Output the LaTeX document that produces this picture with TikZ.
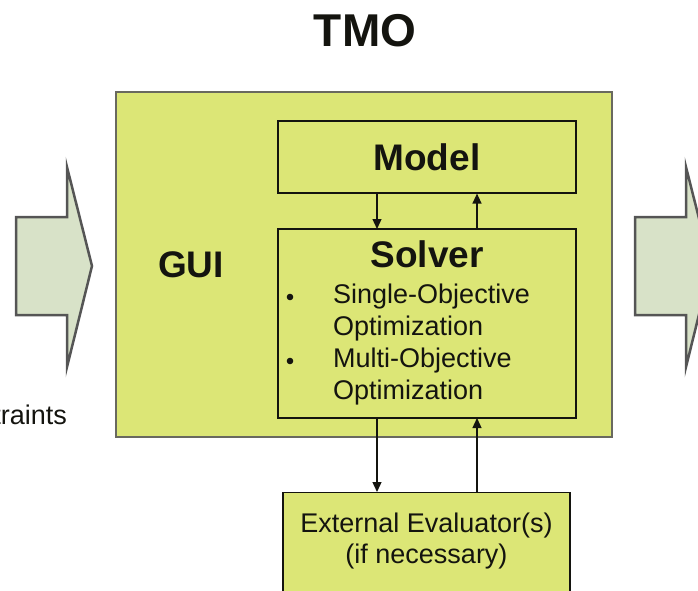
\documentclass[tikz,border=0pt]{standalone}
\usepackage{fontspec}
\setmainfont{Liberation Sans}
\usetikzlibrary{arrows.meta}
\definecolor{boxfill}{RGB}{220,230,118}
\definecolor{boxline}{RGB}{105,105,95}
\definecolor{arrowfill}{RGB}{216,226,200}
\definecolor{arrowline}{RGB}{85,85,85}
\definecolor{ink}{RGB}{20,20,15}
\tikzset{
  panel/.style={draw=boxline, line width=2pt, fill=boxfill},
  inner/.style={draw=ink, line width=1.2pt, fill=boxfill},
  flow/.style={draw=arrowline, line width=2.5pt, fill=arrowfill, line join=miter},
  link/.style={draw=ink, line width=1.3pt, -{Triangle[length=10pt,width=9pt]}},
  body/.style={font=\fontsize{27}{30}\selectfont, text=ink},
  heading/.style={font=\fontsize{37}{40}\selectfont\bfseries, text=ink},
}
\begin{document}
\begin{tikzpicture}[x=1pt,y=-1pt]
\useasboundingbox (0,0) rectangle (698,591);
\clip (0,0) rectangle (698,591);

% title
\node[font=\fontsize{46}{48}\selectfont\bfseries, text=ink] (title) at (365,31) {TMO};

% input arrow
\draw[flow] (16,217) -- (67,217) -- (67,167) -- (92,266) -- (67,367) -- (67,315) -- (16,315) -- cycle;
\node[body, anchor=east, inner sep=0] (inlabel) at (67,415) {Constraints};

% output arrow
\draw[flow] (635,217) -- (686,217) -- (686,167) -- (711,266) -- (686,367) -- (686,315) -- (635,315) -- cycle;

% main panel
\draw[panel] (116,92) rectangle (612,437);
\node[heading] (gui) at (191,265) {GUI};

% model
\node[inner, minimum width=298pt, minimum height=72pt, heading] (model) at (427,157) {Model};

% solver
\draw[inner] (278,229) rectangle (576,418);
\node[heading] (solver) at (427,254) {Solver};
\node[body, anchor=west, inner sep=0] (s1) at (333,297) {Single-Objective};
\node[body, anchor=west, inner sep=0] (s2) at (333,329) {Optimization};
\node[body, anchor=west, inner sep=0] (m1) at (333,361) {Multi-Objective};
\node[body, anchor=west, inner sep=0] (m2) at (333,393) {Optimization};
\fill[ink] (290,297) circle (3.3pt);
\fill[ink] (290,361) circle (3.3pt);
\coordinate (solvertop) at (427,229);
\coordinate (solverbot) at (427,418);

% external evaluator
\node[inner, minimum width=287pt, minimum height=120pt, anchor=north] (ext) at (426.5,492) {};
\node[body, align=center] (exttext) at (426.5,541) {External Evaluator(s)\\[1pt](if necessary)};

% links
\coordinate (dn) at (377,0);
\coordinate (up) at (477,0);
\draw[link] (model.south -| dn) -- (solvertop -| dn);
\draw[link] (solvertop -| up) -- (model.south -| up);
\draw[link] (solverbot -| dn) -- (ext.north -| dn);
\draw[link] (ext.north -| up) -- (solverbot -| up);
\end{tikzpicture}
\end{document}
